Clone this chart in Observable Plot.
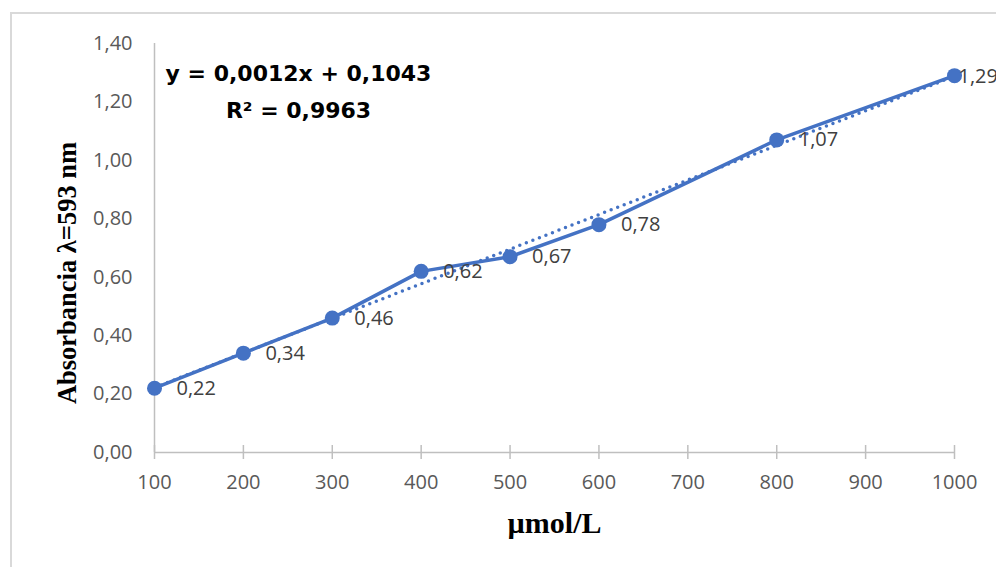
<!DOCTYPE html>
<html>
<head>
<meta charset="utf-8">
<script src="https://cdn.jsdelivr.net/npm/d3@7"></script>
<script src="https://cdn.jsdelivr.net/npm/@observablehq/plot@0.6"></script>
<style>
  html, body { margin: 0; padding: 0; background: #fff; }
  #wrap { position: relative; width: 996px; height: 567px; overflow: hidden; }
  #border { position: absolute; left: 10px; top: 12px; width: 1100px; height: 700px; border: 2px solid #d9d9d9; box-sizing: border-box; }
  #chart { position: absolute; left: 0; top: 0; }
</style>
</head>
<body>
<div id="wrap"><div id="border"></div><div id="chart"></div></div>
<script>
const concentrations = [100, 200, 300, 400, 500, 600, 800, 1000];
const absorbances = [0.22, 0.34, 0.46, 0.62, 0.67, 0.78, 1.07, 1.29];
const xTicks = [100, 200, 300, 400, 500, 600, 700, 800, 900, 1000];
const yTicks = [0, 0.2, 0.4, 0.6, 0.8, 1.0, 1.2, 1.4];
const equationLines = ["y = 0,0012x + 0,1043", "R² = 0,9963"];
const xTitle = "µmol/L";
const yTitle = "Absorbancia λ=593 nm";

const data = concentrations.map((x, i) => ({x, y: absorbances[i]}));
const fmt = d => d.toFixed(2).replace(".", ",");
const blue = "#4472C4";
const axisGray = "#bfbfbf";
const tickFont = "'Open Sans', sans-serif";
const serif = "'Liberation Serif', 'Times New Roman', serif";

const chart = Plot.plot({
  width: 996,
  height: 567,
  marginLeft: 154,
  marginRight: 42,
  marginTop: 43,
  marginBottom: 115,
  style: {background: "transparent", overflow: "visible"},
  x: {domain: [100, 1000]},
  y: {domain: [0, 1.4]},
  marks: [
    // axis lines
    Plot.ruleX([100], {stroke: axisGray, strokeWidth: 1.5}),
    Plot.ruleY([0], {stroke: axisGray, strokeWidth: 1.5}),
    // cross ticks on x axis (no text)
    Plot.axisX({ticks: xTicks, tickSize: 14, dy: -7, tickFormat: () => "", label: null, stroke: axisGray, strokeWidth: 1.5}),
    // tick labels
    Plot.axisX({ticks: xTicks, tickSize: 0, tickPadding: 22, tickFormat: d => String(d), label: null, fontSize: 20, fontFamily: tickFont, fill: "#595959"}),
    Plot.axisY({ticks: yTicks, tickSize: 0, tickPadding: 22, tickFormat: fmt, label: null, fontSize: 20, fontFamily: tickFont, fill: "#595959"}),
    // trendline
    Plot.linearRegressionY(data, {x: "x", y: "y", ci: 0, stroke: blue, strokeWidth: 3.5, strokeDasharray: "0 7", strokeLinecap: "round"}),
    // data series
    Plot.line(data, {x: "x", y: "y", stroke: blue, strokeWidth: 3.5}),
    Plot.dot(data, {x: "x", y: "y", r: 7.5, fill: blue, stroke: null}),
    Plot.text(data.slice(0, -1), {x: "x", y: "y", text: d => fmt(d.y), textAnchor: "start", dx: 22, dy: 0, fontSize: 20, fontFamily: tickFont, fill: "#404040"}),
    Plot.text(data.slice(-1), {x: "x", y: "y", text: d => fmt(d.y), textAnchor: "start", dx: 4, dy: 1, fontSize: 20, fontFamily: tickFont, fill: "#404040"}),
    // equation
    Plot.text([equationLines.join("\n")], {frameAnchor: "top-left", dx: 144, dy: 12, textAnchor: "middle", lineAnchor: "top", lineHeight: 1.65, fontSize: 22, fontWeight: "bold", fontFamily: "'DejaVu Sans', sans-serif", fill: "#000"}),
    // axis titles
    Plot.text([xTitle], {frameAnchor: "bottom", dy: 80, textAnchor: "middle", fontSize: 30, fontWeight: "bold", fontFamily: serif, fill: "#000"}),
    Plot.text([yTitle], {frameAnchor: "left", dx: -87, dy: 25, rotate: -90, textAnchor: "middle", fontSize: 26.5, fontWeight: "bold", fontFamily: serif, fill: "#000"})
  ]
});
document.getElementById("chart").appendChild(chart);
</script>
</body>
</html>
